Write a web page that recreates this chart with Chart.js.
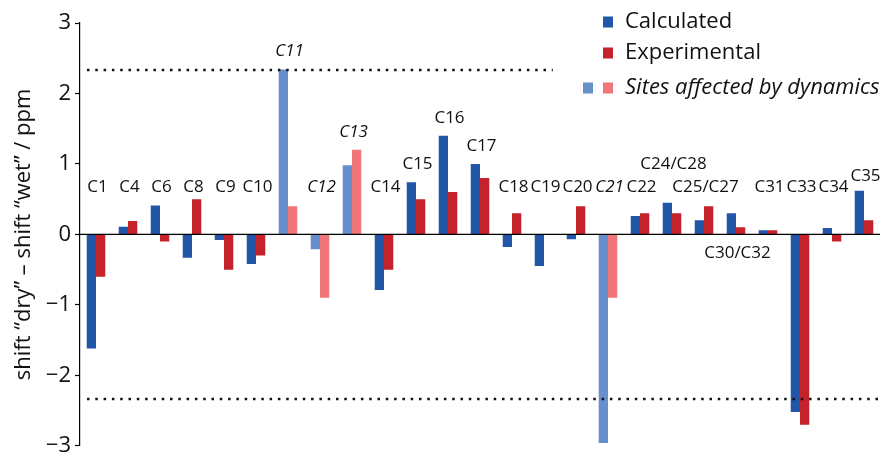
<!DOCTYPE html>
<html>
<head>
<meta charset="utf-8">
<script src="https://cdn.jsdelivr.net/npm/chart.js@4.4.1/dist/chart.umd.min.js"></script>
<style>
  html, body { margin: 0; padding: 0; background: #fff; }
  #wrap { position: relative; width: 885px; height: 463px; }
</style>
</head>
<body>
<div id="wrap"><canvas id="c" width="885" height="463"></canvas></div>
<script>
// ---- data ----
const categories = ['C1','C4','C6','C8','C9','C10','C11','C12','C13','C14','C15','C16','C17','C18','C19','C20','C21','C22','C24/C28','C25/C27','C30/C32','C31','C33','C34','C35'];
const calculated = [-1.62, 0.11, 0.41, -0.33, -0.08, -0.42, 2.34, -0.21, 0.98, -0.79, 0.74, 1.40, 1.00, -0.18, -0.45, -0.07, -2.96, 0.26, 0.45, 0.20, 0.30, 0.06, -2.52, 0.09, 0.62];
const experimental = [-0.60, 0.19, -0.10, 0.50, -0.50, -0.30, 0.40, -0.90, 1.20, -0.50, 0.50, 0.60, 0.80, 0.30, 0.00, 0.40, -0.90, 0.30, 0.30, 0.40, 0.10, 0.06, -2.70, -0.10, 0.20];
const dynamicSites = ['C11','C12','C13','C21'];
const yTicks = [-3, -2, -1, 0, 1, 2, 3];
const thresholds = [2.33, -2.33];
const seriesNames = ['Calculated', 'Experimental', 'Sites affected by dynamics'];
const yTitle = 'shift \u201Cdry\u201D \u2013 shift \u201Cwet\u201D / ppm';

// ---- styles ----
const FONT = "'Open Sans', 'DejaVu Sans', sans-serif";
const BLUE = '#2256a8', RED = '#c4232b', LBLUE = '#6690cc', PINK = '#f07478';
const isDyn = c => dynamicSites.includes(c);

// label heights (in value units) where the figure deviates from "just above the bars"
const labelOverrides = { 'C8': 0.67, 'C24/C28': 0.99, 'C30/C32': -0.27, 'C35': 0.82 };

const annotPlugin = {
  id: 'annot',
  afterDatasetsDraw(chart) {
    const { ctx, chartArea: ca, scales: { x, y } } = chart;
    ctx.save();
    // zero line on top
    ctx.strokeStyle = '#000'; ctx.lineWidth = 1.2;
    ctx.beginPath(); ctx.moveTo(ca.left, y.getPixelForValue(0)); ctx.lineTo(ca.right, y.getPixelForValue(0)); ctx.stroke();
    // dotted threshold lines
    ctx.strokeStyle = '#111'; ctx.lineWidth = 2.5; ctx.setLineDash([2.5, 5.8]);
    const ends = [ca.left + 0.591 * (ca.right - ca.left), ca.right - 2];
    thresholds.forEach((t, k) => {
      const py = Math.round(y.getPixelForValue(t));
      ctx.beginPath(); ctx.moveTo(ca.left + 7, py); ctx.lineTo(ends[k], py); ctx.stroke();
    });
    ctx.setLineDash([]);
    // category labels
    ctx.fillStyle = '#111'; ctx.textAlign = 'center'; ctx.textBaseline = 'middle';
    const base = y.getPixelForValue(0.67);
    categories.forEach((c, i) => {
      const px = x.getPixelForValue(i) + 1.5;
      let py;
      if (c in labelOverrides) py = y.getPixelForValue(labelOverrides[c]);
      else {
        const top = Math.max(calculated[i], experimental[i], 0);
        py = Math.min(base, y.getPixelForValue(top) - 18);
      }
      ctx.font = (isDyn(c) ? 'italic ' : '') + '17px ' + FONT;
      ctx.fillText(c, px, py);
    });
    // legend
    const lx = ca.right - 277, ty = [22, 53, 88];
    ctx.textAlign = 'left';
    const sq = (cx, cy, col) => { ctx.fillStyle = col; ctx.fillRect(cx, cy - 5.5, 10, 11); };
    sq(lx, ty[0], BLUE); sq(lx, ty[1], RED); sq(lx - 20, ty[2], LBLUE); sq(lx, ty[2], PINK);
    ctx.fillStyle = '#111';
    ctx.font = '22px ' + FONT;
    ctx.fillText(seriesNames[0], lx + 22, ty[0]);
    ctx.fillText(seriesNames[1], lx + 22, ty[1]);
    ctx.font = 'italic 22px ' + FONT;
    ctx.fillText(seriesNames[2], lx + 22, ty[2]);
    ctx.restore();
  }
};

new Chart(document.getElementById('c'), {
  type: 'bar',
  data: {
    labels: categories,
    datasets: [
      { label: seriesNames[0], data: calculated, backgroundColor: categories.map(c => isDyn(c) ? LBLUE : BLUE), borderWidth: 0 },
      { label: seriesNames[1], data: experimental, backgroundColor: categories.map(c => isDyn(c) ? PINK : RED), borderWidth: 0 }
    ]
  },
  options: {
    responsive: false,
    animation: false,
    devicePixelRatio: 1,
    layout: { padding: { top: 23, bottom: 9, right: 5, left: 0 } },
    categoryPercentage: 0.58,
    barPercentage: 1.0,
    plugins: { legend: { display: false }, tooltip: { enabled: false } },
    scales: {
      x: { display: false },
      y: {
        min: yTicks[0], max: yTicks[yTicks.length - 1],
        afterBuildTicks(s) { s.ticks = yTicks.map(v => ({ value: v })); },
        afterFit(s) { s.width = 80; },
        ticks: {
          padding: 4, color: '#111',
          font: { family: FONT, size: 22 },
          callback: v => String(v).replace('-', '\u2212')
        },
        grid: { drawOnChartArea: false, tickLength: 5, tickColor: '#000', tickWidth: 1.2 },
        border: { display: true, color: '#000', width: 1.2 },
        title: { display: true, text: yTitle, color: '#111', font: { family: FONT, size: 22 }, padding: { top: 11, bottom: 0 } }
      }
    }
  },
  plugins: [annotPlugin]
});
</script>
</body>
</html>
